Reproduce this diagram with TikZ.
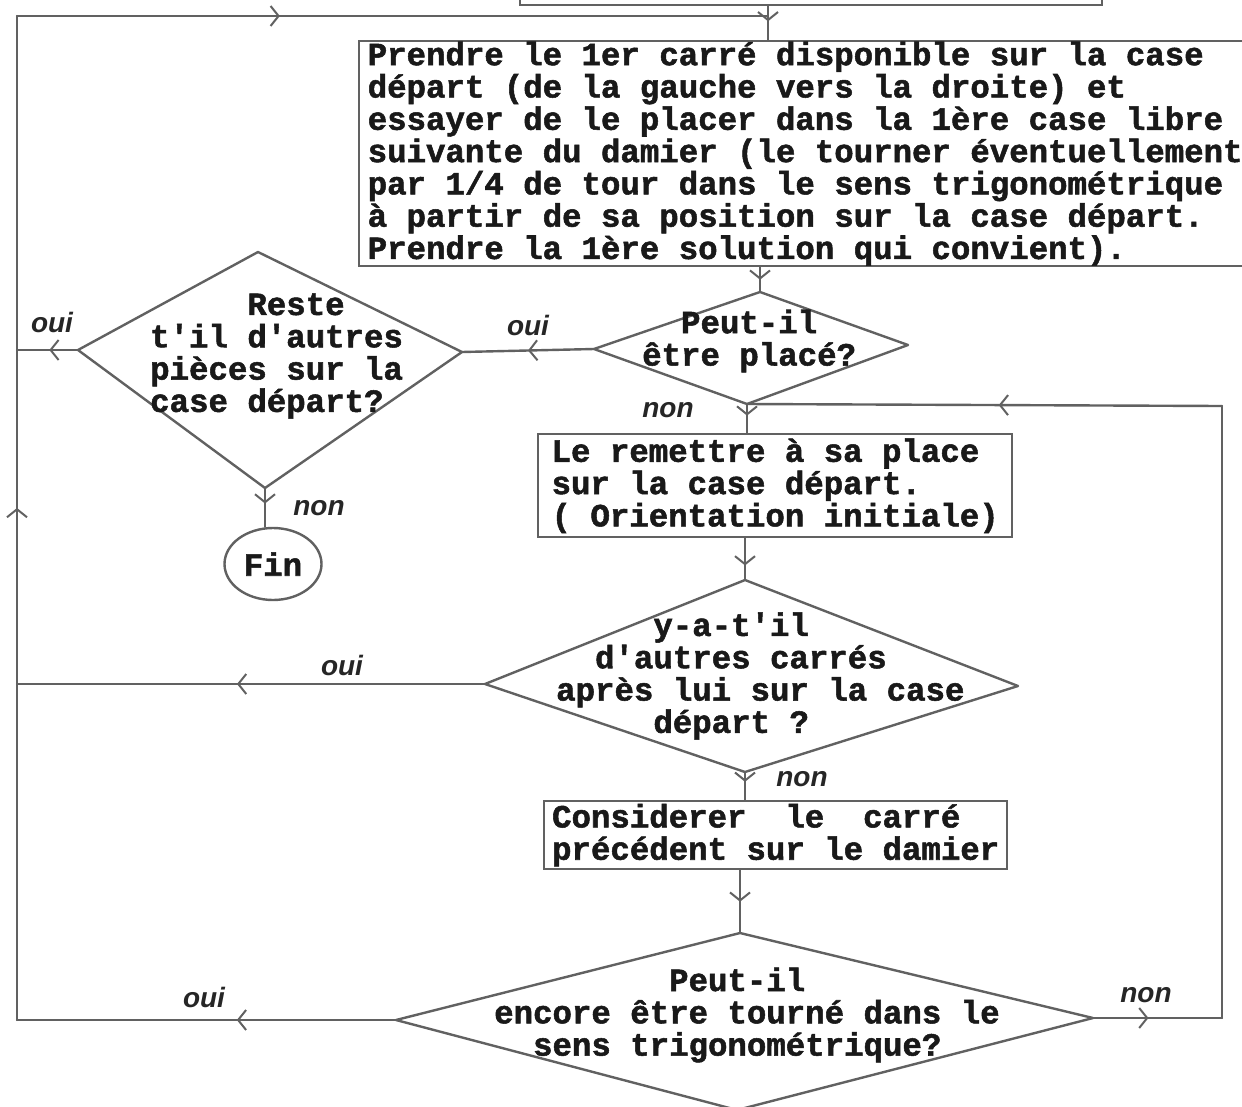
\documentclass[tikz,border=0pt]{standalone}
\usepackage{fontspec}
\setmonofont{Liberation Mono}[BoldFeatures={FakeBold=1.6}]
\newfontfamily\handfont{Liberation Sans}
\usetikzlibrary{arrows.meta,decorations.markings,shapes.geometric}
\newcommand\tsp[1]{\hspace*{#1\dimexpr0.6em\relax}}
\newcommand\twfont{\ttfamily\bfseries\fontsize{32.4}{32.3}\selectfont}
\newcommand\diam[5]{%
  \coordinate (#1-w) at #2; \coordinate (#1-n) at #3;
  \coordinate (#1-e) at #4; \coordinate (#1-s) at #5;
  \draw[ln, line join=round] (#1-w) -- (#1-n) -- (#1-e) -- (#1-s) -- cycle;}
\tikzset{
  ln/.style={draw=black!62, line width=2.4pt, line cap=round},
  boxst/.style={ln, rectangle, align=left, inner sep=0pt, font=\twfont, text=black!90},
  txt/.style={align=left, inner sep=0pt, font=\twfont, text=black!90, anchor=west},
  lab/.style={font=\handfont\bfseries\itshape\fontsize{28}{28}\selectfont, text=black!85, inner sep=0pt},
  marr/.style={postaction={decorate, decoration={markings,
      mark=at position #1 with {\arrow[black!62, line width=2pt]{Straight Barb[length=8pt,width=20pt]}}}}},
}
\begin{document}
\begin{tikzpicture}[x=1pt, y=-1pt]
\useasboundingbox (0,0) rectangle (1242,1106);

% partial box at top
\node[ln, rectangle, minimum width=582, minimum height=60, anchor=south west, inner sep=0] (top) at (519,6) {};

% main boxes
\node[boxst, minimum width=892, minimum height=225, anchor=north west] (b1) at (358,40)
 {Prendre le 1er carré disponible sur la case\\
  départ (de la gauche vers la droite) et\\
  essayer de le placer dans la 1ère case libre\\
  suivante du damier (le tourner éventuellement\\
  par 1/4 de tour dans le sens trigonométrique\\
  à partir de sa position sur la case départ.\\
  Prendre la 1ère solution qui convient).};

\node[boxst, minimum width=474, minimum height=103, anchor=north west] (b2) at (537,433)
 {Le remettre à sa place\\
  sur la case départ.\\
  ( Orientation initiale)};

\node[boxst, minimum width=463, minimum height=68, anchor=north west] (b3) at (543,800)
 {Considerer~~le~~carré\\
  précédent sur le damier};

\node[ln, ellipse, minimum width=97, minimum height=72, inner sep=0pt, font=\twfont, text=black!90] (fin) at (273,564) {Fin};

% decisions
\diam{d1}{(594,349)}{(760,292)}{(908,345)}{(747,404)}
\diam{d2}{(78,350)}{(258,252)}{(462,352)}{(265,488)}
\diam{d3}{(485,684)}{(745,580)}{(1018,686)}{(745,772)}
\diam{d4}{(396,1020)}{(740,933)}{(1093,1018)}{(737,1110)}

\node[txt] (t1) at (642,341) {\tsp{2}Peut-il\\être placé?};
\node[txt] (t2) at (150,356) {\tsp{5}Reste\\t'il d'autres\\pièces sur la\\case départ?};
\node[txt] (t3) at (556,676) {\tsp{5}y-a-t'il\\\tsp{2}d'autres carrés\\après lui sur la case\\\tsp{5}départ ?};
\node[txt] (t4) at (494,1015) {\tsp{9}Peut-il\\encore être tourné dans le\\\tsp{2}sens trigonométrique?};

% loop corners
\coordinate (jx) at (768,16);
\coordinate (lt) at (17,16);
\coordinate (lb) at (17,1020);
\coordinate (rb) at (1222,1018);
\coordinate (rt) at (1222,406);

% connectors
\draw[ln, marr=0.45] (top.south -| jx) -- (b1.north -| jx);
\draw[ln, marr=0.5] (b1.south -| d1-n) -- (d1-n);
\draw[ln, marr=0.5] (d1-w) -- (d2-e);
\draw[ln, marr=0.47] (d2-w) -- (d2-w -| lt);
\draw[ln, marr=0.4] (d2-s) -- (d2-s |- fin.north);
\draw[ln, marr=0.4] (d1-s) -- (d1-s |- b2.north);
\draw[ln, marr=0.65] (b2.south -| d3-n) -- (d3-n);
\draw[ln, marr=0.53] (d3-w) -- (d3-w -| lt);
\draw[ln, marr=0.35] (d3-s) -- (d3-s |- b3.north);
\draw[ln, marr=0.5] (b3.south -| d4-n) -- (d4-n);
\draw[ln, marr=0.42] (d4-w) -- (lb);
\draw[ln, marr=0.51] (lb) -- (lt);
\draw[ln, marr=0.35] (lt) -- (jx);
\draw[ln, marr=0.43] (d4-e) -- (rb);
\draw[ln] (rb) -- (rt);
\draw[ln, marr=0.47] (rt) -- (d1-s);

% labels
\node[lab] (l1) at (52,322) {oui};
\node[lab] (l2) at (528,325) {oui};
\node[lab] (l3) at (668,410) {non};
\node[lab] (l4) at (319,508) {non};
\node[lab] (l5) at (342,665) {oui};
\node[lab] (l6) at (802,779) {non};
\node[lab] (l7) at (204,997) {oui};
\node[lab] (l8) at (1146,995) {non};
\end{tikzpicture}
\end{document}
